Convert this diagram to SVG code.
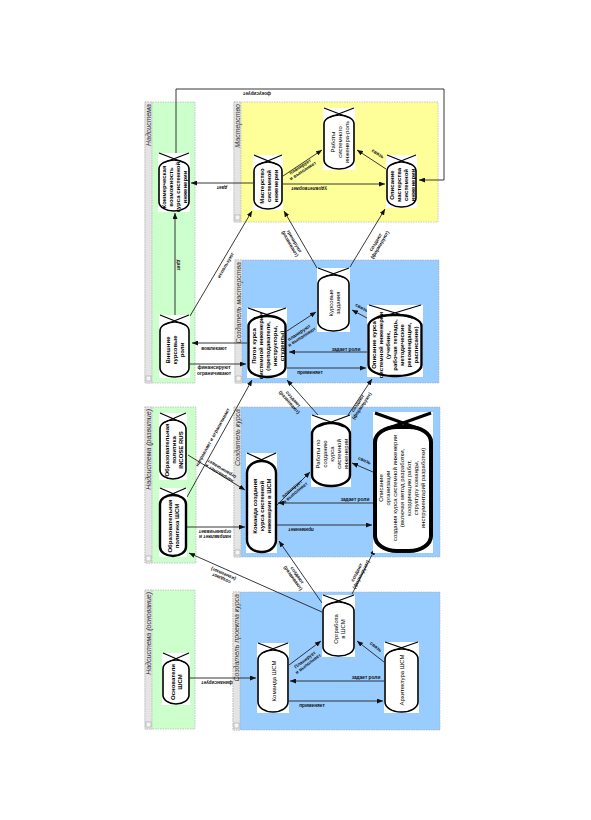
<svg xmlns="http://www.w3.org/2000/svg" width="591" height="820" viewBox="0 0 591 820">
<style>
.strip{fill:#e4e4e4;stroke:#aaa;stroke-width:0.6;stroke-dasharray:1.5,1}
.pg{fill:#ccffcc;stroke:#aaa;stroke-width:0.6;stroke-dasharray:1.5,1}
.py{fill:#ffff99;stroke:#aaa;stroke-width:0.6;stroke-dasharray:1.5,1}
.pb{fill:#99ccff;stroke:#aaa;stroke-width:0.6;stroke-dasharray:1.5,1}
.ico{fill:#f4f4f4;stroke:#999;stroke-width:0.5}
.hdr{font-family:"Liberation Sans",Arial,sans-serif;font-size:7px;font-style:italic;fill:#333}
.bg{fill:#fff}
.cap{fill:#fff;stroke:#000;stroke-width:1.6}
.cap2{fill:#fff;stroke:#000;stroke-width:2.4}
.cap3{fill:#fff;stroke:#000;stroke-width:4}
.x{stroke:#000;stroke-width:1.3;fill:none}
.x3{stroke:#000;stroke-width:3;fill:none}
.nt{font-family:"Liberation Sans",Arial,sans-serif;font-size:6px;fill:#000;text-anchor:middle}
.b{font-weight:bold}
.ln{fill:none;stroke:#222;stroke-width:0.9;marker-end:url(#ah)}
.el{font-family:"Liberation Sans",Arial,sans-serif;font-size:4.8px;font-weight:bold;fill:#111;text-anchor:middle}
</style>
<defs>
<marker id="ah" markerUnits="userSpaceOnUse" markerWidth="6" markerHeight="5" refX="6" refY="2.5" orient="auto">
<path d="M0,0 L6,2.5 L0,5 Z" fill="#111"/>
</marker>
</defs>

<g id="panels">
<g id="p1"><rect class="pg" x="145" y="102" width="50" height="281"/><rect class="strip" x="145" y="102" width="7" height="281"/><rect class="ico" x="146" y="376" width="5" height="5"/><text class="hdr" text-anchor="end" transform="translate(150.5,104) rotate(-90)">Надсистема</text></g>
<g id="p2"><rect class="py" x="234" y="102" width="204" height="120"/><rect class="strip" x="234" y="102" width="7" height="120"/><rect class="ico" x="235" y="215" width="5" height="5"/><text class="hdr" text-anchor="end" transform="translate(239.5,104) rotate(-90)">Мастерство</text></g>
<g id="p3"><rect class="pg" x="145" y="407" width="51" height="156"/><rect class="strip" x="145" y="407" width="7" height="156"/><rect class="ico" x="146" y="556" width="5" height="5"/><text class="hdr" text-anchor="end" transform="translate(150.5,409) rotate(-90)">Надсистема (развитие)</text></g>
<g id="p4"><rect class="pb" x="235" y="260" width="204" height="123"/><rect class="strip" x="235" y="260" width="7" height="123"/><rect class="ico" x="236" y="376" width="5" height="5"/><text class="hdr" text-anchor="end" transform="translate(240.5,262) rotate(-90)">Создатель мастерства</text></g>
<g id="p5"><rect class="pb" x="234" y="407" width="206" height="150"/><rect class="strip" x="234" y="407" width="7" height="150"/><rect class="ico" x="235" y="550" width="5" height="5"/><text class="hdr" text-anchor="end" transform="translate(239.5,409) rotate(-90)">Создатель курса</text></g>
<g id="p6"><rect class="pg" x="145" y="590" width="50" height="139"/><rect class="strip" x="145" y="590" width="7" height="139"/><rect class="ico" x="146" y="722" width="5" height="5"/><text class="hdr" text-anchor="end" transform="translate(150.5,592) rotate(-90)">Надсистема (основание)</text></g>
<g id="p7"><rect class="pb" x="233" y="592" width="207" height="138"/><rect class="strip" x="233" y="592" width="7" height="138"/><rect class="ico" x="234" y="723" width="5" height="5"/><text class="hdr" text-anchor="end" transform="translate(238.5,594) rotate(-90)">Создатель проекта курса</text></g>
</g>

<g id="connectors">
<path class="ln" d="M176,153 V89 H444 V180 H419"/>
<text class="el" transform="translate(257,92) rotate(180)">фокусирует</text>
<path class="ln" d="M253,183 H191"/>
<text class="el" transform="translate(222,186) rotate(180)">дает</text>
<path class="ln" d="M175,315 V213"/>
<text class="el" transform="translate(177,265) rotate(90)">дает</text>
<path class="ln" d="M283,176 L322,150"/>
<text class="el" transform="translate(301,168) rotate(-33)"><tspan x="0" y="0">планирует</tspan><tspan x="0" y="5">и выполняет</tspan></text>
<path class="ln" d="M283,184 H385"/>
<text class="el" transform="translate(309,187) rotate(180)">удовлетворяет</text>
<path class="ln" d="M386,169 L357,150"/>
<text class="el" transform="translate(377,155) rotate(33)">связь</text>
<path class="ln" d="M190,316 L252,211"/>
<text class="el" transform="translate(227,266) rotate(-60)">используют</text>
<path class="ln" d="M317,268 L284,211"/>
<text class="el" transform="translate(293,242) rotate(60)"><tspan x="0" y="0">тренируют</tspan><tspan x="0" y="5">(развивают)</tspan></text>
<path class="ln" d="M350,267 L385,209"/>
<text class="el" transform="translate(377,243) rotate(-59)"><tspan x="0" y="0">создают</tspan><tspan x="0" y="5">(формируют)</tspan></text>

<path class="ln" d="M287,331 L316,312"/>
<text class="el" transform="translate(300,334) rotate(-33)"><tspan x="0" y="0">планируют</tspan><tspan x="0" y="5">и выполняют</tspan></text>
<path class="ln" d="M367,318 L352,310"/>
<text class="el" transform="translate(361,309) rotate(28)">связь</text>
<path class="ln" d="M367,352 H289"/>
<text class="el" x="346" y="350.5">задает роли</text>
<path class="ln" d="M287,368 H366"/>
<text class="el" x="310" y="374">применяет</text>
<path class="ln" d="M247,343 H192"/>
<text class="el" x="214" y="350">вовлекают</text>
<path class="ln" d="M190,364 H246"/>
<text class="el"><tspan x="214" y="369">финансируют</tspan><tspan x="214" y="374.5">ограничивают</tspan></text>

<path class="ln" d="M187,497 L252,380"/>
<text class="el" transform="translate(214,438) rotate(-61)">направляет и ограничивает</text>
<path class="ln" d="M318,415 L287,380"/>
<text class="el" transform="translate(292,400) rotate(49)"><tspan x="0" y="0">создают</tspan><tspan x="0" y="5">(развивают)</tspan></text>
<path class="ln" d="M348,415 L372,379"/>
<text class="el" transform="translate(359,404) rotate(-56)"><tspan x="0" y="0">создают</tspan><tspan x="0" y="5">(формируют)</tspan></text>

<path class="ln" d="M277,505 L310,472"/>
<text class="el" transform="translate(293,490) rotate(-40)"><tspan x="0" y="0">планирует</tspan><tspan x="0" y="5">и выполняет</tspan></text>
<path class="ln" d="M373,472 L352,463"/>
<text class="el" transform="translate(364,462) rotate(23)">связь</text>
<path class="ln" d="M373,503 H278"/>
<text class="el" x="355" y="501">задает роли</text>
<path class="ln" d="M277,525 H372"/>
<text class="el" transform="translate(301,528) rotate(180)">применяет</text>
<path class="ln" d="M187,527 H245"/>
<text class="el" transform="translate(215,535) rotate(180)"><tspan x="0" y="0">направляет и</tspan><tspan x="0" y="5">ограничивает</tspan></text>
<path class="ln" d="M188,455 L245,490"/>
<text class="el" transform="translate(220,472) rotate(211)"><tspan x="0" y="0">направляет и</tspan><tspan x="0" y="5">ограничивает</tspan></text>

<path class="ln" d="M322,603 L279,541"/>
<text class="el" transform="translate(296,576) rotate(55)"><tspan x="0" y="0">создают</tspan><tspan x="0" y="5">(развивают)</tspan></text>
<path class="ln" d="M352,594 L375,549"/>
<text class="el" transform="translate(358,573) rotate(-63)"><tspan x="0" y="0">создают</tspan><tspan x="0" y="5">(формируют)</tspan></text>
<path class="ln" d="M322,612 L189,553"/>
<text class="el" transform="translate(222,577) rotate(204)"><tspan x="0" y="0">создают</tspan><tspan x="0" y="5">(изменяют)</tspan></text>
<path class="ln" d="M190,678 H256"/>
<text class="el" transform="translate(217,681) rotate(180)">финансирует</text>
<path class="ln" d="M289,665 L321,641"/>
<text class="el" transform="translate(306,661) rotate(-37)"><tspan x="0" y="0">Планирует</tspan><tspan x="0" y="5">и выполняет</tspan></text>
<path class="ln" d="M384,662 L357,641"/>
<text class="el" transform="translate(375,648) rotate(38)">связь</text>
<path class="ln" d="M384,681 H290"/>
<text class="el" x="366" y="679">задает роли</text>
<path class="ln" d="M289,701 H383"/>
<text class="el" x="312" y="707">применяет</text>
</g>

<g id="n1"><rect class="bg" x="158" y="153" width="32" height="59"/><rect class="cap" x="159" y="160" width="30" height="51" rx="15" ry="9"/><path class="x" d="M159,153 L185,163 M189,153 L163,163"/>
<text class="nt b" transform="translate(174,187) rotate(-90)"><tspan x="0" y="-8">Коммерческая</tspan><tspan x="0" y="-1">возможность</tspan><tspan x="0" y="6">курса системной</tspan><tspan x="0" y="13">инженерии</tspan></text></g>
<g id="n2"><rect class="bg" x="253" y="155" width="30" height="55"/><rect class="cap" x="254" y="162" width="28" height="47" rx="14" ry="9"/><path class="x" d="M254,155 L278,165 M282,155 L258,165"/>
<text class="nt b" transform="translate(268,186) rotate(-90)"><tspan x="0" y="-4.5">Мастерство</tspan><tspan x="0" y="2.5">системной</tspan><tspan x="0" y="9.5">инженерии</tspan></text></g>
<g id="n3"><rect class="bg" x="323" y="108" width="32" height="62"/><rect class="cap" x="324" y="115" width="30" height="54" rx="15" ry="9"/><path class="x" d="M324,108 L350,118 M354,108 L328,118"/>
<text class="nt" transform="translate(339,142) rotate(-90)"><tspan x="0" y="-4.5">Работы</tspan><tspan x="0" y="2.5">системного</tspan><tspan x="0" y="9.5">инженера-роль</tspan></text></g>
<g id="n4"><rect class="bg" x="386" y="155" width="31" height="53"/><rect class="cap" x="387" y="162" width="29" height="45" rx="14" ry="9"/><path class="x" d="M387,155 L412,165 M416,155 L391,165"/>
<text class="nt b" transform="translate(401.5,185) rotate(-90)"><tspan x="0" y="-8">Описание</tspan><tspan x="0" y="-1">мастерства</tspan><tspan x="0" y="6">системной</tspan><tspan x="0" y="13">инженерии</tspan></text></g>

<g id="n5"><rect class="bg" x="159" y="315" width="31" height="63"/><rect class="cap" x="160" y="322" width="29" height="55" rx="14" ry="9"/><path class="x" d="M160,315 L185,325 M189,315 L164,325"/>
<text class="nt b" transform="translate(174.5,350) rotate(-90)"><tspan x="0" y="-4.5">Внешние</tspan><tspan x="0" y="2.5">курсовые</tspan><tspan x="0" y="9.5">роли</tspan></text></g>
<g id="n6"><rect class="bg" x="247" y="308" width="40" height="70"/><rect class="cap2" x="248.5" y="316" width="37" height="61" rx="18" ry="10"/><path class="x" d="M248,308 L280,319 M286,308 L254,319"/>
<text class="nt b" transform="translate(267,346) rotate(-90)"><tspan x="0" y="-11.5">Поток курса</tspan><tspan x="0" y="-4.5">системной инженерии</tspan><tspan x="0" y="2.5">(преподаватели,</tspan><tspan x="0" y="9.5">инструкторы,</tspan><tspan x="0" y="16.5">студенты)</tspan></text></g>
<g id="n7"><rect class="bg" x="317" y="268" width="33" height="64"/><rect class="cap" x="318" y="275" width="31" height="56" rx="15" ry="9"/><path class="x" d="M318,268 L345,278 M349,268 L322,278"/>
<text class="nt" transform="translate(333.5,303) rotate(-90)"><tspan x="0" y="-1">Курсовые</tspan><tspan x="0" y="6">задания</tspan></text></g>
<g id="n8"><rect class="bg" x="367" y="305" width="56" height="72"/><rect class="cap2" x="368.5" y="315" width="53" height="61" rx="24" ry="11"/><path class="x" d="M369,305 L412,318 M421,305 L378,318"/>
<text class="nt b" transform="translate(395,345) rotate(-90)"><tspan x="0" y="-19">Описание курса</tspan><tspan x="0" y="-12">системной инженерии</tspan><tspan x="0" y="-5">(учебник,</tspan><tspan x="0" y="2">рабочая тетрадь,</tspan><tspan x="0" y="9">методические</tspan><tspan x="0" y="16">рекомендации,</tspan><tspan x="0" y="23">расписание)</tspan></text></g>

<g id="n9"><rect class="bg" x="159" y="413" width="28" height="67"/><rect class="cap" x="160" y="420" width="26" height="59" rx="13" ry="9"/><path class="x" d="M160,413 L183,423 M186,413 L163,423"/>
<text class="nt b" transform="translate(173,450) rotate(-90)"><tspan x="0" y="-4.5">Образовательная</tspan><tspan x="0" y="2.5">политика</tspan><tspan x="0" y="9.5">INCOSE RUS</tspan></text></g>
<g id="n10"><rect class="bg" x="159" y="488" width="28" height="69"/><rect class="cap2" x="160" y="495" width="26" height="61" rx="13" ry="9"/><path class="x" d="M160,488 L183,498 M186,488 L163,498"/>
<text class="nt b" transform="translate(173,526) rotate(-90)"><tspan x="0" y="-1">Образовательная</tspan><tspan x="0" y="6">политика ШСМ</tspan></text></g>
<g id="n11"><rect class="bg" x="246" y="453" width="31" height="100"/><rect class="cap2" x="247" y="461" width="29" height="91" rx="14" ry="12"/><path class="x" d="M247,453 L273,465 M276,453 L250,465"/>
<text class="nt b" transform="translate(261.5,506) rotate(-90)"><tspan x="0" y="-4.5">Команда создания</tspan><tspan x="0" y="2.5">курса системной</tspan><tspan x="0" y="9.5">инженерии в ШСМ</tspan></text></g>
<g id="n12"><rect class="bg" x="311" y="415" width="40" height="72"/><rect class="cap2" x="312" y="423" width="38" height="63" rx="18" ry="11"/><path class="x" d="M312,415 L344,427 M350,415 L318,427"/>
<text class="nt" transform="translate(331,454) rotate(-90)"><tspan x="0" y="-11.5">Работы по</tspan><tspan x="0" y="-4.5">созданию</tspan><tspan x="0" y="2.5">курса</tspan><tspan x="0" y="9.5">системной</tspan><tspan x="0" y="16.5">инженерии</tspan></text></g>
<g id="n13"><rect class="bg" x="373" y="412" width="60" height="141"/><rect class="cap3" x="375" y="427" width="56" height="124" rx="22" ry="15"/><path class="x3" d="M375,413 L420,429 M431,413 L386,429"/>
<text class="nt" transform="translate(403,488) rotate(-90)"><tspan x="0" y="-20">Описание</tspan><tspan x="0" y="-13">организации</tspan><tspan x="0" y="-6">создания курса системной инженерии</tspan><tspan x="0" y="1">(включая метод разработки,</tspan><tspan x="0" y="8">координацию работ,</tspan><tspan x="0" y="15">структуру команды,</tspan><tspan x="0" y="22">инструментарий разработки)</tspan></text></g>

<g id="n14"><rect class="bg" x="162" y="653" width="28" height="52"/><rect class="cap" x="163" y="660" width="26" height="44" rx="13" ry="9"/><path class="x" d="M163,653 L186,663 M189,653 L166,663"/>
<text class="nt b" transform="translate(176,682) rotate(-90)"><tspan x="0" y="-1">Основатели</tspan><tspan x="0" y="6">ШСМ</tspan></text></g>
<g id="n15"><rect class="bg" x="257" y="643" width="32" height="70"/><rect class="cap" x="258" y="650" width="30" height="62" rx="15" ry="10"/><path class="x" d="M258,643 L284,653 M288,643 L262,653"/>
<text class="nt" transform="translate(273,681) rotate(-90)"><tspan x="0" y="2.5">Команда ШСМ</tspan></text></g>
<g id="n16"><rect class="bg" x="322" y="595" width="33" height="62"/><rect class="cap" x="323" y="602" width="31" height="54" rx="15" ry="9"/><path class="x" d="M323,595 L350,605 M354,595 L327,605"/>
<text class="nt" transform="translate(338.5,629) rotate(-90)"><tspan x="0" y="-1">Оргработа</tspan><tspan x="0" y="6">в ШСМ</tspan></text></g>
<g id="n17"><rect class="bg" x="384" y="642" width="35" height="71"/><rect class="cap" x="385" y="649" width="33" height="63" rx="16" ry="10"/><path class="x" d="M385,642 L414,652 M418,642 L389,652"/>
<text class="nt" transform="translate(401.5,680) rotate(-90)"><tspan x="0" y="2.5">Архитектура ШСМ</tspan></text></g>
</svg>
